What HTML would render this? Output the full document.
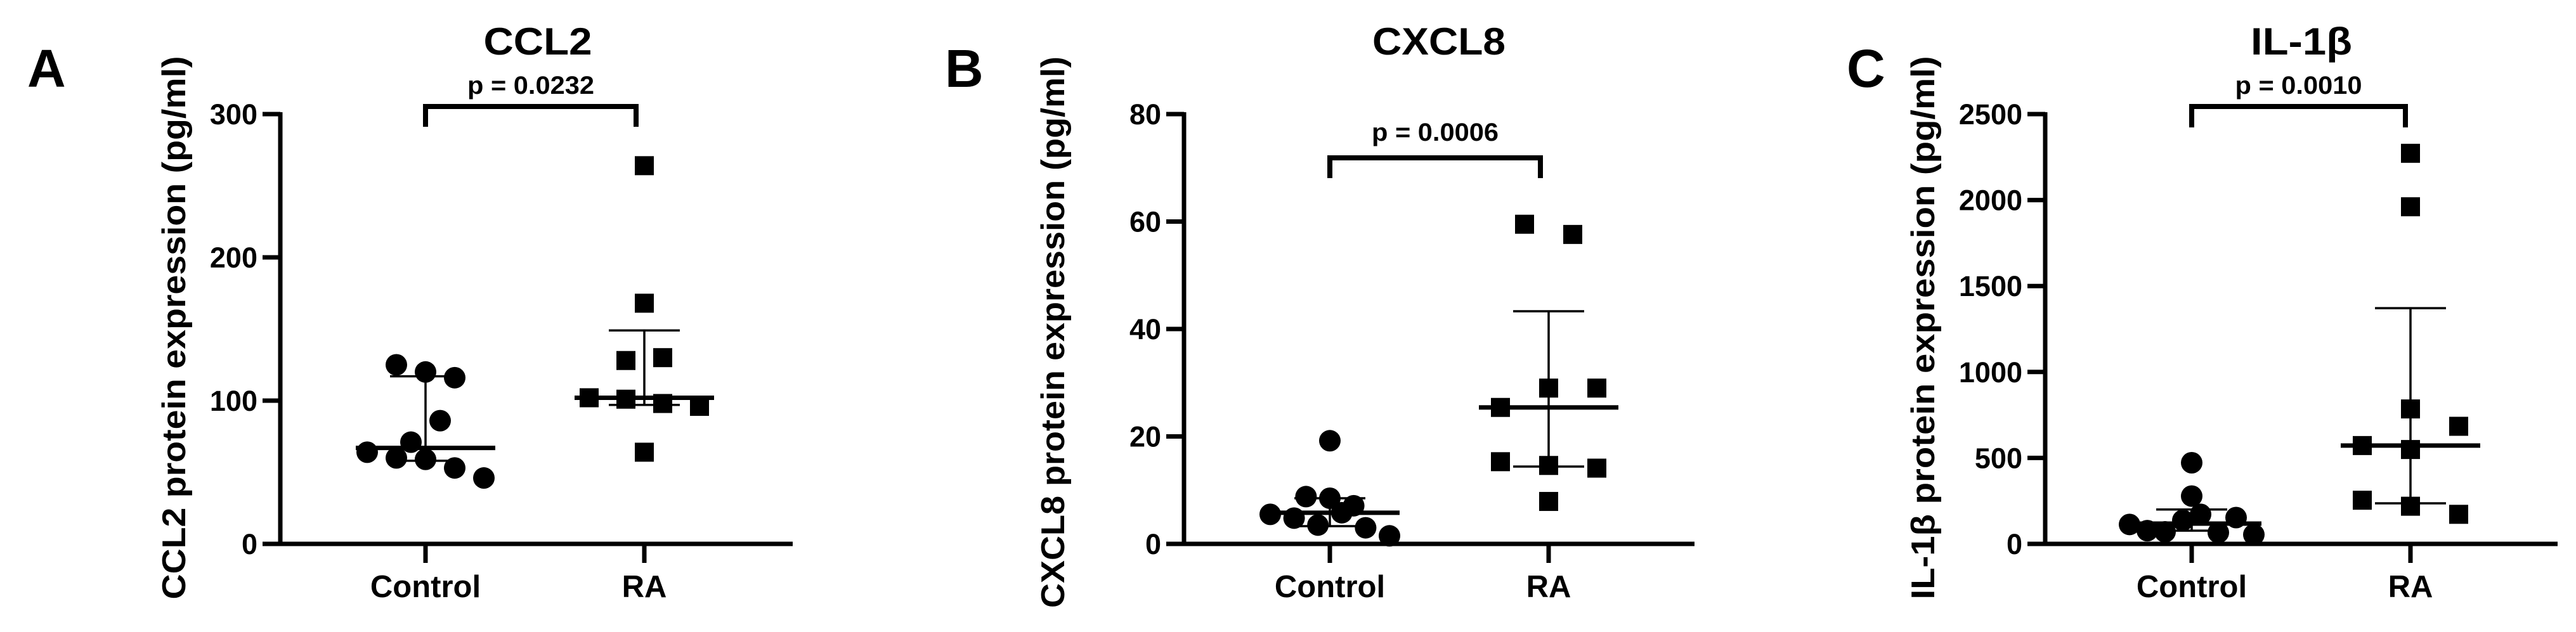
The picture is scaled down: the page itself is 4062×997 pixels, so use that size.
<!DOCTYPE html>
<html><head><meta charset="utf-8"><style>
html,body{margin:0;padding:0;background:#fff;}
svg{display:block;}
text{font-family:"Liberation Sans",Arial,sans-serif;font-weight:bold;fill:#000;}
</style></head><body>
<svg id="fig" width="4062" height="997" viewBox="0 0 4062 997" xmlns="http://www.w3.org/2000/svg"></svg>
<script>
// ---- Panel A: CCL2 ----
const ccl2Control = [125, 120, 116, 86, 71, 64, 60, 59, 53, 46];
const ccl2RA = [264, 168, 128, 130, 102, 101, 98, 96, 64];
const ccl2Stats = [67, 117, 58, 102, 149, 97];   // ctrl median, hi, lo, RA median, hi, lo
const ccl2Ticks = [0, 100, 200, 300];
// ---- Panel B: CXCL8 ----
const cxcl8Control = [19.2, 8.8, 8.5, 7.1, 5.5, 4.8, 5.8, 3.5, 3.0, 1.5];
const cxcl8RA = [59.5, 57.6, 29.0, 29.0, 25.4, 15.3, 14.6, 14.1, 7.9];
const cxcl8Stats = [5.8, 8.5, 3.3, 25.4, 43.3, 14.4];
const cxcl8Ticks = [0, 20, 40, 60, 80];
// ---- Panel C: IL-1b ----
const il1bControl = [472, 278, 172, 153, 137, 113, 77, 70, 66, 54];
const il1bRA = [2272, 1961, 785, 684, 572, 549, 254, 219, 172];
const il1bStats = [118, 200, 77, 572, 1371, 236];
const il1bTicks = [0, 500, 1000, 1500, 2000, 2500];
const groups = ["Control", "RA"];
const pValues = ["p = 0.0232", "p = 0.0006", "p = 0.0010"];
const titles = ["CCL2", "CXCL8", "IL-1\u03B2"];
const yTitles = ["CCL2 protein expression (pg/ml)", "CXCL8 protein expression (pg/ml)", "IL-1\u03B2 protein expression (pg/ml)"];
const letters = ["A", "B", "C"];

const NS = "http://www.w3.org/2000/svg";
const svg = document.getElementById("fig");
function mk(tag, attrs, parent, txt) {
  const e = document.createElementNS(NS, tag);
  for (const k in attrs) e.setAttribute(k, attrs[k]);
  if (txt !== undefined) e.textContent = txt;
  (parent || svg).appendChild(e);
  return e;
}

const layouts = [
  {ax: 442, xEnd: 1250, cx: [671, 1016], ctrlSlots: [-2,0,2,1,-1,-4,-2,0,2,4], ctrlStep: 23, raSlots: [0,0,-1,1,-3,-1,1,3,0], raStep: 29,
   letterX: 43, titleX: 848, titleLen: 171, pY: 148, brTop: 168, brBot: 200, brL: 671, brR: 1003, yTitleX: 292, yTitleC: 517, yTitleLen: 857},
  {ax: 1867, xEnd: 2672, cx: [2097, 2442], ctrlSlots: [0,-2,0,2,-5,-3,1,-1,3,5], ctrlStep: 18.8, raSlots: [-1,1,0,2,-2,-2,0,2,0], raStep: 38,
   letterX: 1490, titleX: 2269, titleLen: 210, pY: 222, brTop: 249, brBot: 281, brL: 2097, brR: 2429, yTitleX: 1678, yTitleC: 524, yTitleLen: 870},
  {ax: 3225, xEnd: 4033, cx: [3456, 3801], ctrlSlots: [0,0,1,5,-1,-7,-5,-3,3,7], ctrlStep: 14, raSlots: [0,0,0,2,-2,0,-2,0,2], raStep: 38,
   letterX: 2912, titleX: 3629, titleLen: 160, pY: 148, brTop: 168, brBot: 201, brL: 3456, brR: 3793, yTitleX: 3050, yTitleC: 517, yTitleLen: 857}
];
const datasets = [[ccl2Control, ccl2RA, ccl2Stats, ccl2Ticks],[cxcl8Control, cxcl8RA, cxcl8Stats, cxcl8Ticks],[il1bControl, il1bRA, il1bStats, il1bTicks]];
const Y0 = 858, YTOP = 180;

datasets.forEach((ds, i) => {
  const L = layouts[i];
  const [ctrl, ra, st, ticks] = ds;
  const yMax = ticks[ticks.length - 1];
  const yS = v => Y0 - (v / yMax) * (Y0 - YTOP);
  const g = mk("g", {});
  
  

  const lt = mk("text", {x: L.letterX, y: 137, "font-size": 84}, g, letters[i]);
  
  

  const tt = mk("text", {x: L.titleX, y: 86, "font-size": 60, "text-anchor": "middle", textLength: L.titleLen, lengthAdjust: "spacingAndGlyphs"}, g, titles[i]);
  
  

  const yt = mk("text", {x: 0, y: 0, "font-size": 52, "text-anchor": "middle", textLength: L.yTitleLen, lengthAdjust: "spacingAndGlyphs",
    transform: `translate(${L.yTitleX},${L.yTitleC}) rotate(-90)`}, g, yTitles[i]);
  
  

  const ya = mk("line", {x1: L.ax, y1: YTOP - 3, x2: L.ax, y2: Y0 + 3, stroke: "#000", "stroke-width": 7}, g);
  
  
  const xa = mk("line", {x1: L.ax - 3, y1: Y0, x2: L.xEnd, y2: Y0, stroke: "#000", "stroke-width": 7}, g);
  
  

  ticks.forEach(t => {
    const y = yS(t);
    const tk = mk("line", {x1: L.ax - 28, y1: y, x2: L.ax, y2: y, stroke: "#000", "stroke-width": 7}, g);
    
    
    const tl = mk("text", {x: L.ax - 36, y: y + 16, "font-size": 45, "text-anchor": "end"}, g, String(t));
    
    
  });
  groups.forEach((gn, k) => {
    const tk = mk("line", {x1: L.cx[k], y1: Y0, x2: L.cx[k], y2: Y0 + 30, stroke: "#000", "stroke-width": 7}, g);
    
    
    const tl = mk("text", {x: L.cx[k], y: 942, "font-size": 49, "text-anchor": "middle"}, g, gn);
    
    
  });

  ctrl.forEach((v, j) => {
    const c = mk("ellipse", {cx: L.cx[0] + L.ctrlSlots[j] * L.ctrlStep, cy: yS(v), rx: 17, ry: 17, fill: "#000"}, g);
    
    
  });
  ra.forEach((v, j) => {
    const s = mk("rect", {x: L.cx[1] + L.raSlots[j] * L.raStep - 15, y: yS(v) - 15, width: 30, height: 30, fill: "#000"}, g);
    
    
  });

  [0, 1].forEach(k => {
    const cx = L.cx[k], med = st[k * 3], hi = st[k * 3 + 1], lo = st[k * 3 + 2];
    const v = mk("line", {x1: cx, y1: yS(hi), x2: cx, y2: yS(lo), stroke: "#000", "stroke-width": 3.5}, g);
    
    
    [hi, lo].forEach(b => {
      const cap = mk("line", {x1: cx - 56, y1: yS(b), x2: cx + 56, y2: yS(b), stroke: "#000", "stroke-width": 3.5}, g);
      
      
    });
    const m = mk("line", {x1: cx - 110, y1: yS(med), x2: cx + 110, y2: yS(med), stroke: "#000", "stroke-width": 7}, g);
    
    
  });

  const br = mk("polyline", {points: `${L.brL},${L.brBot} ${L.brL},${L.brTop} ${L.brR},${L.brTop} ${L.brR},${L.brBot}`, fill: "none", stroke: "#000", "stroke-width": 8}, g);
  
  
  const pt = mk("text", {x: (L.brL + L.brR) / 2, y: L.pY, "font-size": 40, "text-anchor": "middle", textLength: 200, lengthAdjust: "spacingAndGlyphs"}, g, pValues[i]);
  
  
});
</script>
</body></html>
